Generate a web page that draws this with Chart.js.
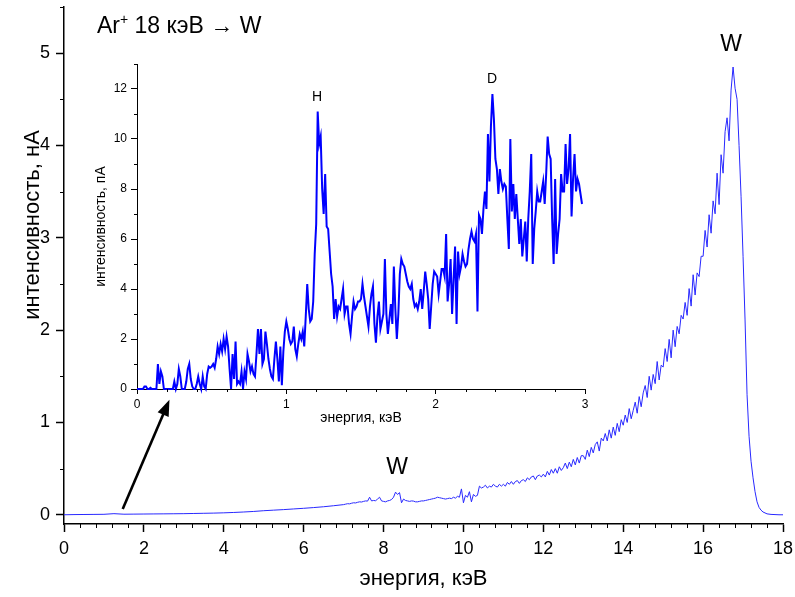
<!DOCTYPE html>
<html>
<head>
<meta charset="utf-8">
<script src="https://cdn.jsdelivr.net/npm/chart.js@4.4.1/dist/chart.umd.min.js"></script>
<style>
html,body{margin:0;padding:0;background:#fff;}
#wrap{position:relative;width:795px;height:597px;overflow:hidden;}
canvas{position:absolute;}
</style>
</head>
<body>
<div id="wrap">
<canvas id="main" width="795" height="597" style="left:0;top:0;width:795px;height:597px"></canvas>
<canvas id="inset" width="520" height="380" style="left:80px;top:55px;width:520px;height:380px"></canvas>
</div>
<script>
// ---------- DATA ----------
// Main spectrum: low-energy part (explicit energies, keV)
const mainLowE = [0,0.25,0.5,0.75,1.0,1.25,1.5,1.75,2.0,2.25,2.5,2.75,3.0,3.25,3.5,3.75,4.0,4.25,4.5,4.75,5.0,5.25,5.5,5.75,6.0,6.25,6.5,6.75];
const mainLowI = [0,0.002,0.003,0.004,0.005,0.012,0.006,0.007,0.008,0.009,0.01,0.011,0.012,0.014,0.016,0.018,0.021,0.025,0.03,0.036,0.044,0.05,0.056,0.063,0.07,0.078,0.087,0.098];
// Main spectrum: channels from 7.00 keV in 0.05 keV steps (nA)
const mainMidStart = 7.0;
const mainMidStep = 0.05;
const mainMidI = [
 0.11,0.115,0.12,0.118,0.125,0.13,0.128,0.135,0.14,0.138,
 0.145,0.15,0.148,0.19,0.15,0.155,0.152,0.17,0.19,0.15,
 0.145,0.14,0.15,0.155,0.165,0.19,0.245,0.22,0.24,0.13,
 0.17,0.155,0.15,0.145,0.15,0.148,0.14,0.14,0.145,0.15,
 0.15,0.155,0.16,0.165,0.17,0.175,0.18,0.19,0.185,0.18,
 0.175,0.17,0.175,0.18,0.175,0.19,0.18,0.2,0.19,0.28,
 0.13,0.21,0.19,0.25,0.14,0.22,0.2,0.21,0.31,0.29,
 0.3,0.32,0.29,0.31,0.3,0.33,0.31,0.3,0.33,0.31,
 0.33,0.31,0.35,0.33,0.36,0.33,0.36,0.37,0.34,0.37,
 0.38,0.36,0.4,0.38,0.41,0.42,0.38,0.42,0.43,0.41,
 0.44,0.41,0.47,0.43,0.49,0.45,0.5,0.45,0.52,0.48,
 0.51,0.56,0.5,0.57,0.52,0.6,0.54,0.62,0.56,0.64,
 0.64,0.6,0.7,0.63,0.73,0.67,0.76,0.79,0.69,0.83,
 0.8,0.88,0.8,0.92,0.83,0.95,0.86,0.99,0.9,1.03,
 0.97,1.08,1.0,1.15,1.04,1.13,1.22,1.1,1.28,1.17,
 1.32,1.4,1.27,1.5,1.35,1.52,1.42,1.66,1.46,1.62,
 1.6,1.8,1.66,1.9,1.7,2.0,1.82,2.04,1.96,2.16,
 2.12,2.3,2.16,2.45,2.26,2.6,2.38,2.62,2.58,2.8,
 2.8,3.08,2.9,3.25,3.05,3.4,3.26,3.7,3.36,3.9,
 3.7,4.15,4.3,4.05,4.6,4.85,4.62,4.5,4.0,3.45,
 2.8,2.11,1.3,0.85,0.58,0.4,0.25,0.14,0.08,0.05,
 0.03
];
const mainTailE = [17.6,17.7,17.8,17.9,18.0];
const mainTailI = [0.01,0.004,0.002,0,0];

// Inset: 0.00 .. 2.98 keV in 0.01 keV steps (pA)
const insetStart = 0.0;
const insetStep = 0.01;
const insetI = [
 0,0,0,0,0,0.1,0.1,0,0,0.05,
 0,0,0,0,1.0,0.2,0.7,0.5,0,0,
 0,0,0,0,0,0.3,0,0.2,0.8,0.5,
 0,0,0,0.3,0.8,1.0,0.4,0.1,0,0,
 0.2,0.5,0.2,0,0.5,0.1,0,0.6,0.9,0.85,
 0.9,1.0,0.85,1.2,1.7,1.4,1.8,1.5,2.0,1.6,
 2.1,1.7,0.8,0,1.4,0.4,1.9,0.2,0.3,0.2,
 0.7,0,0.7,0.4,1.4,1.1,0.7,0.9,0.6,0.5,
 1.4,2.4,1.4,2.4,1.0,1.2,2.3,1.8,1.2,0.8,
 0.5,0.4,1.2,1.9,1.2,0.3,1.7,0.15,1.5,2.3,
 2.7,2.4,2.0,1.8,1.9,2.5,1.6,1.3,1.8,2.2,
 2.0,2.3,1.7,2.9,4.2,3.2,2.7,2.8,3.5,5.4,
 6.6,11.1,9.8,10.1,8.0,7.0,8.6,6.5,6.4,5.5,
 4.6,4.1,2.8,3.6,2.9,3.3,3.2,3.6,4.0,3.0,
 3.3,3.3,2.6,2.2,2.9,3.5,3.2,3.3,3.5,3.5,
 3.6,4.2,3.7,3.3,2.9,2.5,3.3,3.8,4.1,2.6,
 1.85,2.9,3.5,2.4,2.7,3.0,5.2,3.0,2.2,2.8,
 3.4,2.6,4.9,3.2,2.0,3.0,4.6,5.2,5.0,4.9,
 4.6,4.3,4.1,4.0,4.2,3.6,3.3,3.4,3.2,3.5,
 4.0,3.2,3.9,4.7,4.2,3.6,2.4,3.3,4.2,4.7,
 4.6,4.5,3.8,4.3,4.8,4.8,4.5,6.2,3.5,4.2,
 5.2,3.0,4.4,5.7,2.6,5.5,4.6,4.9,5.4,5.1,
 4.9,5.0,5.6,6.0,6.3,6.0,5.9,6.2,3.1,6.96,
 6.8,6.2,7.2,7.9,7.2,10.2,8.3,10.5,11.8,10.8,
 9.2,8.8,7.8,8.8,8.3,8.0,8.2,8.1,6.8,5.6,
 10.0,7.1,8.2,6.8,7.8,6.8,5.8,6.8,5.3,6.0,
 6.7,5.1,6.8,7.9,9.4,5.0,6.4,7.1,7.9,7.5,
 7.5,7.9,8.3,7.4,8.6,10.1,9.4,9.2,6.8,5.0,
 8.4,5.4,6.2,6.8,8.6,7.9,7.9,9.8,8.2,8.8,
 10.2,6.9,8.4,9.4,7.9,8.4,8.2,7.8,7.4
];

// Tick labels
const mainXTicks = [0,2,4,6,8,10,12,14,16,18];
const mainYTicks = [0,1,2,3,4,5];
const insetXTicks = [0,1,2,3];
const insetYTicks = [0,2,4,6,8,10,12];

// Texts
const titleMain = ['Ar', '+', ' 18 кэВ \u2192 W'];
const xTitleMain = 'энергия, кэВ';
const yTitleMain = 'интенсивность, нА';
const xTitleInset = 'энергия, кэВ';
const yTitleInset = 'интенсивность, пА';

// ---------- BUILD ----------
const FONT = '"Liberation Sans", Arial, Helvetica, sans-serif';
Chart.defaults.font.family = FONT;
Chart.defaults.color = '#000';

const mainPts = [];
mainLowE.forEach((e,i)=>mainPts.push({x:e, y:mainLowI[i]}));
mainMidI.forEach((v,i)=>mainPts.push({x:+(mainMidStart + i*mainMidStep).toFixed(2), y:v}));
mainTailE.forEach((e,i)=>mainPts.push({x:e, y:mainTailI[i]}));

const insetPts = insetI.map((v,i)=>({x:+(insetStart + i*insetStep).toFixed(2), y:v}));

function minorList(min, max, step, majorEvery){
  const out=[];
  const n=Math.round((max-min)/step);
  for(let k=0;k<=n;k++){ if(k%majorEvery!==0) out.push(min+k*step); }
  return out;
}

function drawMinor(chart, xs, ys, len){
  const {ctx, chartArea:a} = chart;
  const sx = chart.scales.x, sy = chart.scales.y;
  ctx.save();
  ctx.strokeStyle='#000'; ctx.lineWidth=1;
  xs.forEach(v=>{
    const px=Math.round(sx.getPixelForValue(v))+0.5;
    ctx.beginPath(); ctx.moveTo(px,a.bottom); ctx.lineTo(px,a.bottom+len); ctx.stroke();
  });
  ys.forEach(v=>{
    const py=Math.round(sy.getPixelForValue(v))+0.5;
    ctx.beginPath(); ctx.moveTo(a.left,py); ctx.lineTo(a.left-len,py); ctx.stroke();
  });
  ctx.restore();
}

const noPadX = s => { s.paddingLeft = 0; s.paddingRight = 0; };
const noPadY = s => { s.paddingTop = 0; s.paddingBottom = 0; };

const mainDeco = {
  id:'mainDeco',
  afterDraw(chart){
    const {ctx} = chart;
    const sx = chart.scales.x, sy = chart.scales.y;
    drawMinor(chart, minorList(0,18,0.4,5), minorList(0,5.5,0.5,2), 4);
    ctx.save();
    ctx.fillStyle='#000';
    // y title
    ctx.save();
    ctx.translate(33, 225);
    ctx.rotate(-Math.PI/2);
    ctx.font = '22px '+FONT;
    ctx.textAlign='center'; ctx.textBaseline='middle';
    ctx.fillText(yTitleMain, 0, 0);
    ctx.restore();
    // main title with superscript
    ctx.textAlign='left'; ctx.textBaseline='alphabetic';
    let tx = 97; const ty = 33;
    ctx.font='23px '+FONT; ctx.fillText(titleMain[0], tx, ty); tx += ctx.measureText(titleMain[0]).width;
    ctx.font='14px '+FONT; ctx.fillText(titleMain[1], tx, ty-9); tx += ctx.measureText(titleMain[1]).width;
    ctx.font='23px '+FONT; ctx.fillText(titleMain[2], tx, ty);
    // W labels
    ctx.font='23px '+FONT; ctx.textAlign='center'; ctx.textBaseline='middle';
    ctx.fillText('W', sx.getPixelForValue(8.34), sy.getPixelForValue(0.51));
    ctx.fillText('W', sx.getPixelForValue(16.7), sy.getPixelForValue(5.09));
    // arrow
    const t = {x:sx.getPixelForValue(1.47), y:sy.getPixelForValue(0.062)};
    const h = {x:sx.getPixelForValue(2.64), y:sy.getPixelForValue(1.245)};
    const ang = Math.atan2(h.y-t.y, h.x-t.x);
    const hl = 16, hw = 6;
    ctx.strokeStyle='#000'; ctx.lineWidth=2.6; ctx.lineCap='butt';
    ctx.beginPath(); ctx.moveTo(t.x,t.y);
    ctx.lineTo(h.x - Math.cos(ang)*hl*0.8, h.y - Math.sin(ang)*hl*0.8); ctx.stroke();
    ctx.beginPath();
    ctx.moveTo(h.x,h.y);
    ctx.lineTo(h.x - Math.cos(ang)*hl - Math.sin(ang)*hw, h.y - Math.sin(ang)*hl + Math.cos(ang)*hw);
    ctx.lineTo(h.x - Math.cos(ang)*hl + Math.sin(ang)*hw, h.y - Math.sin(ang)*hl - Math.cos(ang)*hw);
    ctx.closePath(); ctx.fill();
    ctx.restore();
  }
};

new Chart(document.getElementById('main'), {
  type:'line',
  data:{ datasets:[{ data: mainPts, borderColor:'rgb(40,40,255)', borderWidth:1, pointRadius:0, tension:0, fill:false }] },
  options:{
    responsive:false, animation:false, devicePixelRatio:1,
    layout:{ padding:{ left:0, right:12, top:7, bottom:0 } },
    plugins:{ legend:{display:false}, tooltip:{enabled:false} },
    scales:{
      x:{ type:'linear', min:0, max:18,
        afterBuildTicks:s=>{ s.ticks = mainXTicks.map(v=>({value:v})); },
        afterFit:s=>{ s.height = 73; noPadX(s); },
        grid:{ drawOnChartArea:false, tickLength:8, tickColor:'#000', tickWidth:1.5, color:'#000' },
        border:{ color:'#000', width:1.5 },
        ticks:{ font:{size:18}, color:'#000', padding:6, maxRotation:0, autoSkip:false },
        title:{ display:true, text:xTitleMain, font:{size:22}, color:'#000', padding:{top:0,bottom:5} }
      },
      y:{ type:'linear', min:-0.1, max:5.5,
        afterBuildTicks:s=>{ s.ticks = mainYTicks.map(v=>({value:v})); },
        afterFit:s=>{ s.width = 64; noPadY(s); },
        grid:{ drawOnChartArea:false, tickLength:8, tickColor:'#000', tickWidth:1.5, color:'#000' },
        border:{ color:'#000', width:1.5 },
        ticks:{ font:{size:18}, color:'#000', padding:6 }
      }
    }
  },
  plugins:[mainDeco]
});

const insetDeco = {
  id:'insetDeco',
  afterDraw(chart){
    const {ctx} = chart;
    const sx = chart.scales.x, sy = chart.scales.y;
    drawMinor(chart, minorList(0,3,0.2,5), minorList(0,13,1,2), 3);
    ctx.save();
    ctx.fillStyle='#000';
    ctx.font='14px '+FONT; ctx.textAlign='center'; ctx.textBaseline='middle';
    ctx.fillText('H', sx.getPixelForValue(1.206), sy.getPixelForValue(11.68));
    ctx.fillText('D', sx.getPixelForValue(2.378), sy.getPixelForValue(12.4));
    ctx.restore();
  }
};

new Chart(document.getElementById('inset'), {
  type:'line',
  data:{ datasets:[{ data: insetPts, borderColor:'#0000ff', borderWidth:2, pointRadius:0, tension:0, fill:false, clip:false }] },
  options:{
    responsive:false, animation:false, devicePixelRatio:1,
    layout:{ padding:{ left:0, right:15, top:9, bottom:0 } },
    plugins:{ legend:{display:false}, tooltip:{enabled:false} },
    scales:{
      x:{ type:'linear', min:0, max:3,
        afterBuildTicks:s=>{ s.ticks = insetXTicks.map(v=>({value:v})); },
        afterFit:s=>{ s.height = 46; noPadX(s); },
        grid:{ drawOnChartArea:false, tickLength:5, tickColor:'#000', tickWidth:1, color:'#000' },
        border:{ color:'#000', width:1 },
        ticks:{ font:{size:12}, color:'#000', padding:3, maxRotation:0, autoSkip:false },
        title:{ display:true, text:xTitleInset, font:{size:14}, color:'#000', padding:{top:0,bottom:8} }
      },
      y:{ type:'linear', min:0, max:13,
        afterBuildTicks:s=>{ s.ticks = insetYTicks.map(v=>({value:v})); },
        afterFit:s=>{ s.width = 57; noPadY(s); },
        grid:{ drawOnChartArea:false, tickLength:6, tickColor:'#000', tickWidth:1, color:'#000' },
        border:{ color:'#000', width:1 },
        ticks:{ font:{size:12}, color:'#000', padding:4 },
        title:{ display:true, text:yTitleInset, font:{size:14}, color:'#000', padding:{top:13,bottom:0} }
      }
    }
  },
  plugins:[insetDeco]
});
</script>
</body>
</html>
